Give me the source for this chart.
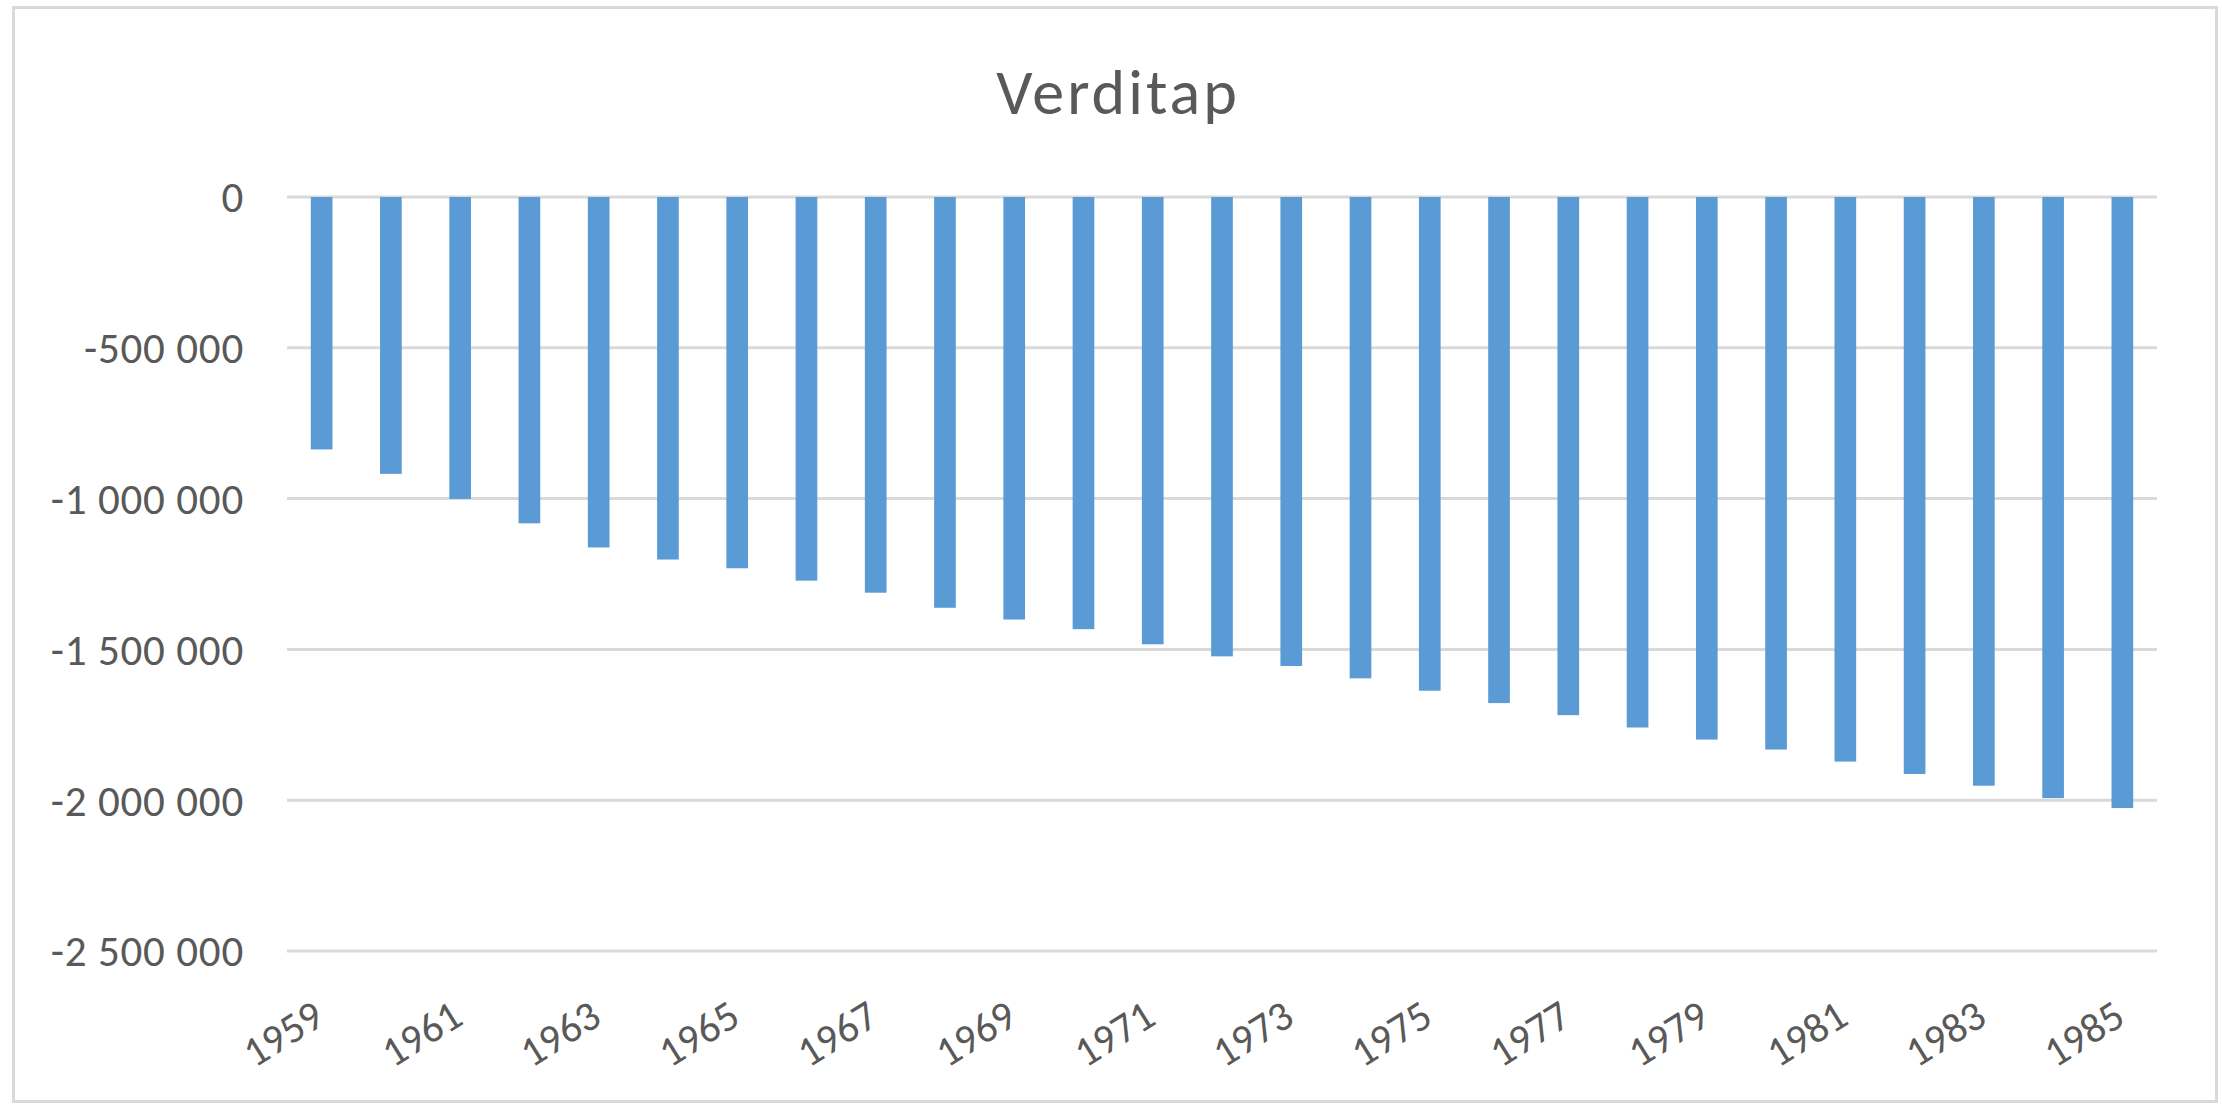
<!DOCTYPE html>
<html>
<head>
<meta charset="utf-8">
<script src="https://cdn.jsdelivr.net/npm/d3@7"></script>
<style>
	html, body { margin: 0; padding: 0; background: #fff; }
	svg { display: block; font-family: Calibri, Carlito, Lato, sans-serif; }
	.tick-label { fill: #595959; font-size: 42px; }
	.g-y .tick-label { font-size: 43px; letter-spacing: 0.8px; }
	.chart-title { fill: #595959; font-size: 64px; letter-spacing: 3px; }
</style>
</head>
<body>
<div id="chart"></div>
<script>
const years = d3.range(1959, 1986).map(String);
const values = [
	-837000, -918000, -1001000, -1082000, -1162000, -1202000, -1231000,
	-1272000, -1312000, -1362000, -1401000, -1433000, -1483000, -1523000,
	-1555000, -1596000, -1637000, -1678000, -1718000, -1759000, -1799000,
	-1832000, -1872000, -1913000, -1952000, -1993000, -2026000
];
const yTicks = [0, -500000, -1000000, -1500000, -2000000, -2500000];
const xLabels = years.filter((d, i) => i % 2 === 0);
const title = 'Verditap';

const WIDTH = 2222;
const HEIGHT = 1105;
const plot = { left: 287, right: 2157, top: 197, bottom: 951 };

const locale = d3.formatLocale({
	decimal: ',',
	thousands: '\u00a0',
	grouping: [3],
	currency: ['', ''],
	minus: '-'
});
const fmt = locale.format(',d');

const data = years.map((y, i) => ({ year: y, value: values[i] }));

const $svg = d3
	.select('#chart')
	.append('svg')
	.attr('width', WIDTH)
	.attr('height', HEIGHT);

// chart frame
$svg
	.append('rect')
	.attr('x', 13.5)
	.attr('y', 7.5)
	.attr('width', 2203)
	.attr('height', 1094)
	.attr('fill', '#fff')
	.attr('stroke', '#d9d9d9')
	.attr('stroke-width', 3);

const x = d3
	.scaleBand()
	.domain(years)
	.range([plot.left, plot.right])
	.paddingInner(0.687)
	.paddingOuter(0.3435);

const y = d3
	.scaleLinear()
	.domain([0, -2500000])
	.range([plot.top, plot.bottom]);

// gridlines
$svg
	.append('g')
	.attr('class', 'g-grid')
	.selectAll('line')
	.data(yTicks)
	.join('line')
	.attr('x1', plot.left)
	.attr('x2', plot.right)
	.attr('y1', d => y(d))
	.attr('y2', d => y(d))
	.attr('stroke', '#d9d9d9')
	.attr('stroke-width', 3);

// y labels
$svg
	.append('g')
	.attr('class', 'g-y')
	.selectAll('text')
	.data(yTicks)
	.join('text')
	.attr('class', 'tick-label')
	.attr('x', 244)
	.attr('y', d => y(d))
	.attr('dy', '0.36em')
	.attr('text-anchor', 'end')
	.text(d => fmt(d));

// bars
$svg
	.append('g')
	.attr('class', 'g-bars')
	.selectAll('rect')
	.data(data)
	.join('rect')
	.attr('x', d => x(d.year))
	.attr('width', x.bandwidth())
	.attr('y', y(0))
	.attr('height', d => y(d.value) - y(0))
	.attr('fill', '#5b9bd5');

// x labels, every second year, rotated
$svg
	.append('g')
	.attr('class', 'g-x')
	.selectAll('text')
	.data(xLabels)
	.join('text')
	.attr('class', 'tick-label')
	.attr('text-anchor', 'end')
	.attr('transform', d => {
		const cx = x(d) + x.bandwidth() / 2 + 5;
		return `translate(${cx}, 1023) rotate(-32)`;
	})
	.text(d => d);

// title
$svg
	.append('text')
	.attr('class', 'chart-title')
	.attr('x', 1118)
	.attr('y', 114)
	.attr('text-anchor', 'middle')
	.text(title);
</script>
</body>
</html>
